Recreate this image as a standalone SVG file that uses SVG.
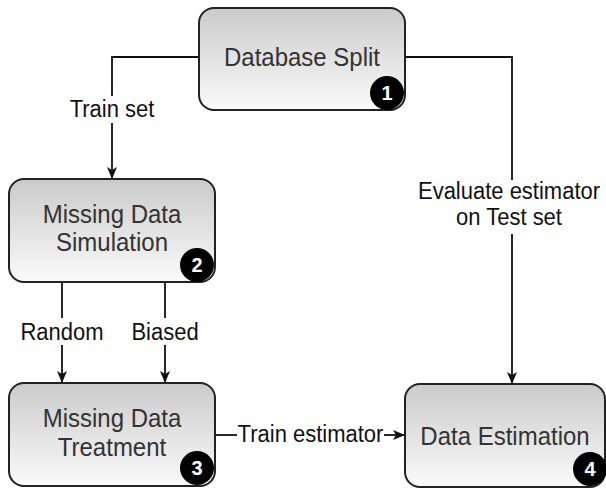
<svg xmlns="http://www.w3.org/2000/svg" width="606" height="490" viewBox="0 0 606 490">
<defs>
<linearGradient id="g" x1="0" y1="0" x2="0" y2="1">
<stop offset="0" stop-color="#cbcbcb"/>
<stop offset="1" stop-color="#fafafa"/>
</linearGradient>
<marker id="ah" viewBox="0 0 12 12" refX="11" refY="6" markerWidth="12" markerHeight="12" markerUnits="userSpaceOnUse" orient="auto">
<path d="M0,1 L12,6 L0,11 L3,6 Z" fill="#111"/>
</marker>
</defs>
<style>
.box{fill:url(#g);stroke:#222;stroke-width:2}
.nt{font-family:"Liberation Sans",Arial,sans-serif;font-size:24px;fill:#333;text-anchor:middle}
.lbl{font-family:"Liberation Sans",Arial,sans-serif;font-size:22px;fill:#111;text-anchor:middle}
.badge{fill:#000}
.bn{font-family:"Liberation Sans",Arial,sans-serif;font-size:20px;font-weight:bold;fill:#fff;text-anchor:middle}
.ln{fill:none;stroke:#111;stroke-width:1.8}
</style>
<rect width="606" height="490" fill="#fff"/>
<g id="connectors">
<path class="ln" d="M199,57 L112,57 L112,96"/>
<path class="ln" d="M112,123 L112,178" marker-end="url(#ah)"/>
<text class="lbl" transform="translate(112,117) scale(1,1.1)">Train set</text>
<path class="ln" d="M405,57 L512,57 L512,180"/>
<path class="ln" d="M512,234 L512,383" marker-end="url(#ah)"/>
<text class="lbl" transform="translate(509,199) scale(1,1.1)">Evaluate estimator</text>
<text class="lbl" transform="translate(509,225) scale(1,1.1)">on Test set</text>
<path class="ln" d="M62,282 L62,318"/>
<path class="ln" d="M62,345 L62,382" marker-end="url(#ah)"/>
<text class="lbl" transform="translate(62,340) scale(1,1.1)">Random</text>
<path class="ln" d="M165,282 L165,318"/>
<path class="ln" d="M165,345 L165,382" marker-end="url(#ah)"/>
<text class="lbl" transform="translate(165,340) scale(1,1.1)">Biased</text>
<path class="ln" d="M215,435 L237,435"/>
<path class="ln" d="M384,435 L404,435" marker-end="url(#ah)"/>
<text class="lbl" transform="translate(310.5,442) scale(1,1.1)">Train estimator</text>
</g>
<g id="node1">
<rect class="box" x="199" y="8" width="206" height="102" rx="15"/>
<text class="nt" transform="translate(302,66) scale(1,1.1)">Database Split</text>
<circle class="badge" cx="387" cy="93" r="17"/>
<text class="bn" x="387" y="100">1</text>
</g>
<g id="node2">
<rect class="box" x="9" y="179" width="206" height="103" rx="15"/>
<text class="nt" transform="translate(112,223) scale(1,1.1)">Missing Data</text>
<text class="nt" transform="translate(112,251) scale(1,1.1)">Simulation</text>
<circle class="badge" cx="197" cy="265" r="17"/>
<text class="bn" x="197" y="272">2</text>
</g>
<g id="node3">
<rect class="box" x="9" y="383" width="206" height="103" rx="15"/>
<text class="nt" transform="translate(112,427) scale(1,1.1)">Missing Data</text>
<text class="nt" transform="translate(112,456) scale(1,1.1)">Treatment</text>
<circle class="badge" cx="197" cy="468" r="17"/>
<text class="bn" x="197" y="475">3</text>
</g>
<g id="node4">
<rect class="box" x="405" y="384" width="200" height="103" rx="15"/>
<text class="nt" transform="translate(505,445) scale(1,1.1)">Data Estimation</text>
<circle class="badge" cx="590" cy="469" r="17"/>
<text class="bn" x="590" y="476">4</text>
</g>
</svg>
